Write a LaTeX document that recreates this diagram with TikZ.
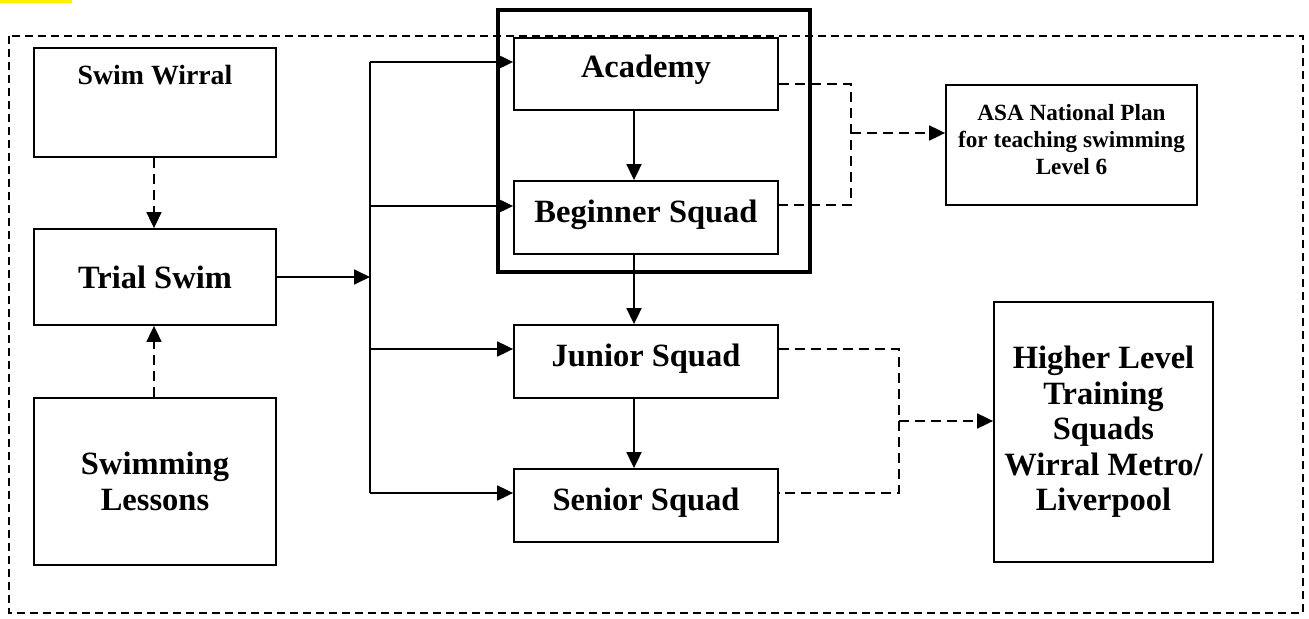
\documentclass[tikz,border=0pt]{standalone}
\usepackage{fontspec}
\setmainfont{Liberation Serif}
\usetikzlibrary{arrows.meta}
\begin{document}
\begin{tikzpicture}[x=0.5pt,y=-0.5pt,
  box/.style={draw, line width=0.9pt, inner sep=0pt, align=center},
  bigtxt/.style={font=\bfseries\fontsize{16.25}{17.75}\selectfont},
  midtxt/.style={font=\bfseries\fontsize{13.9}{16}\selectfont},
  smalltxt/.style={font=\bfseries\fontsize{11.6}{13.5}\selectfont},
  link/.style={line width=0.9pt, -{Triangle[length=8pt,width=7.5pt]}},
  plain/.style={line width=0.9pt},
  dlink/.style={line width=0.9pt, dash pattern=on 5pt off 3pt, -{Triangle[length=8pt,width=7.5pt]}},
  dline/.style={line width=0.9pt, dash pattern=on 5pt off 3pt},
  frame/.style={line width=0.9pt, dash pattern=on 4pt off 2.5pt},
  thick frame/.style={draw, line width=1.6pt, inner sep=0pt}
]
\useasboundingbox (0,0) rectangle (1309,619);
\fill[yellow] (0,0) rectangle (72,3);
\draw[frame] (9,36) rectangle (1303,613);

% left column
\node[box, minimum width=121pt, minimum height=54.5pt] (sw) at (155,102.5) {};
\node[midtxt, anchor=north] (swt) at (155,58) {Swim Wirral};
\node[box, bigtxt, minimum width=121pt, minimum height=48pt] (ts) at (155,277) {Trial Swim};
\node[box, bigtxt, minimum width=121pt, minimum height=83.5pt] (sl) at (155,481.5) {Swimming\\Lessons};

% grouped squads
\node[thick frame, minimum width=156pt, minimum height=131pt] (grp) at (654,141) {};
\node[box, bigtxt, minimum width=132pt, minimum height=36pt, text depth=8pt] (ac) at (646,74) {Academy};
\node[box, bigtxt, minimum width=132pt, minimum height=36.5pt, text depth=6pt] (bg) at (646,217.5) {Beginner Squad};
\node[box, bigtxt, minimum width=132pt, minimum height=36.5pt, text depth=6pt] (jr) at (646,361.5) {Junior Squad};
\node[box, bigtxt, minimum width=132pt, minimum height=36.5pt, text depth=6pt] (sr) at (646,505.5) {Senior Squad};

% right
\node[box, minimum width=125.5pt, minimum height=60pt] (asa) at (1071.5,145) {};
\node[smalltxt, align=center] (asat) at (1071.5,140) {ASA National Plan\\for teaching swimming\\Level 6};
\node[box, bigtxt, minimum width=109.5pt, minimum height=130pt] (hl) at (1103.5,432) {Higher Level\\Training\\Squads\\Wirral Metro/\\Liverpool};

% left connectors
\draw[dlink] (sw.south -| 154,0) -- (ts.north -| 154,0);
\draw[dlink] (sl.north -| 154,0) -- (ts.south -| 154,0);

% trunk
\coordinate (ta) at (370,62);
\coordinate (tb) at (370,206);
\coordinate (tm) at (370,277);
\coordinate (tc) at (370,349);
\coordinate (td) at (370,493);
\draw[plain] (ta) -- (td);
\draw[link] (ts.east |- tm) -- (tm);
\draw[link] (ta) -- (ta -| ac.west);
\draw[link] (tb) -- (tb -| bg.west);
\draw[link] (tc) -- (tc -| jr.west);
\draw[link] (td) -- (td -| sr.west);

% vertical chain
\draw[link] (ac.south -| 634,0) -- (bg.north -| 634,0);
\draw[link] (bg.south -| 634,0) -- (jr.north -| 634,0);
\draw[link] (jr.south -| 634,0) -- (sr.north -| 634,0);

% dashed to ASA
\coordinate (ja) at (851,84);
\coordinate (jb) at (851,205);
\coordinate (jm) at (851,133);
\draw[dline] (ac.east |- ja) -- (ja) -- (jb) -- (bg.east |- jb);
\draw[dlink] (jm) -- (jm -| asa.west);

% dashed to higher level
\coordinate (ka) at (899,349);
\coordinate (kb) at (899,493);
\coordinate (km) at (899,421);
\draw[dline] (jr.east |- ka) -- (ka) -- (kb) -- (sr.east |- kb);
\draw[dlink] (km) -- (km -| hl.west);
\end{tikzpicture}
\end{document}
